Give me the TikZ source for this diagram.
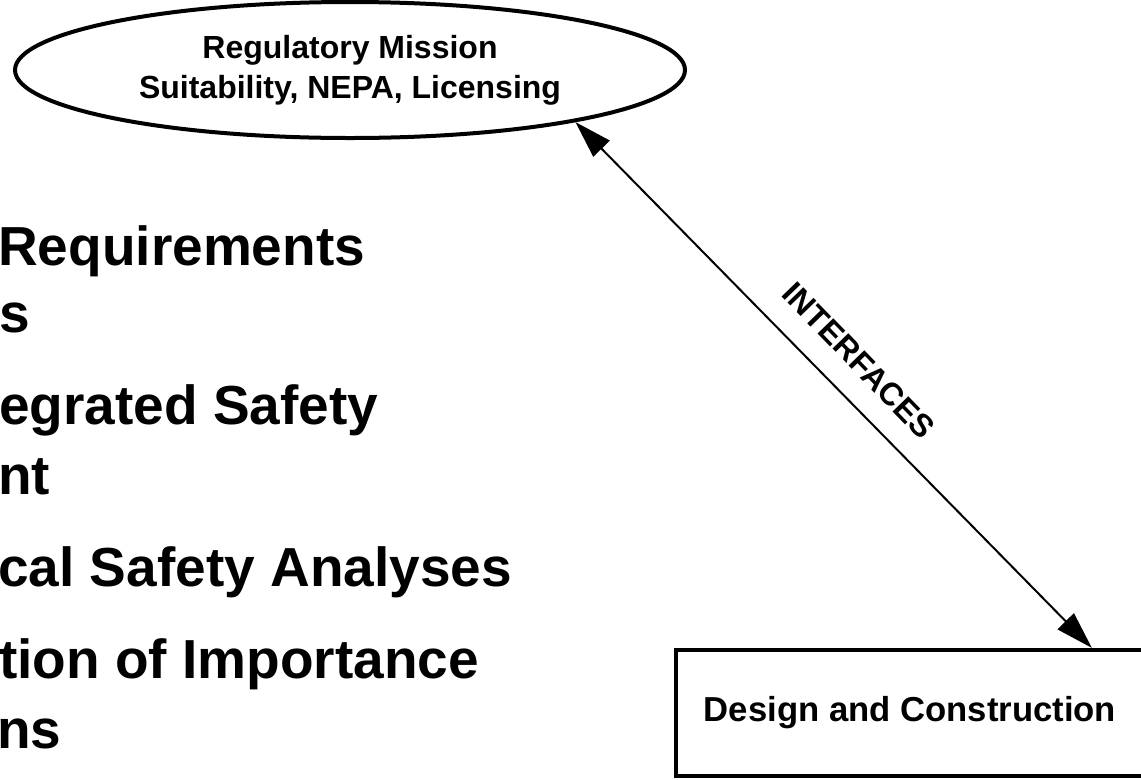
\documentclass[tikz,border=0pt]{standalone}
\usepackage{fontspec}
\setmainfont{Liberation Sans}
\usetikzlibrary{shapes.geometric,arrows.meta,calc}

\newcommand{\slidefont}{\fontsize{41.25}{50}\selectfont\bfseries}
\newcommand{\ovalfont}{\fontsize{24}{30}\selectfont\bfseries}
\newcommand{\boxfont}{\fontsize{26}{30}\selectfont\bfseries}
\newcommand{\tagfont}{\fontsize{24}{28}\selectfont\bfseries}

\begin{document}
\begin{tikzpicture}[x=0.75pt,y=0.75pt,yscale=-1,xscale=1]
\useasboundingbox (0,0) rectangle (1141,779);
\clip (0,0) rectangle (1141,779);

%Shape: Ellipse
\node (reg) [ellipse, draw, line width=3pt, minimum width=502.5pt, minimum height=102pt, align=center, font=\ovalfont] at (350,70) {Regulatory Mission\\Suitability, NEPA, Licensing};

%Shape: Rectangle
\node (dc) [draw, line width=3.2pt, minimum width=351pt, minimum height=94.5pt, font=\boxfont] at (910,713) {Design and Construction};

%Straight Lines
\draw [line width=1.5pt, {Triangle[length=28pt,width=17pt]}-{Triangle[length=28pt,width=17pt]}] (reg.-13) -- node (ifc) [pos=0.5, rotate=-45.9, anchor=south, inner ysep=17pt, font=\tagfont] {INTERFACES} ($(dc.north west)!0.885!(dc.north east)$) ;

% Text Node
\node (l1) [anchor=base west, inner sep=0pt, font=\slidefont] at (-2,265) {Requirements};
% Text Node
\node (l2) [anchor=base west, inner sep=0pt, font=\slidefont] at (-1,332) {s};
% Text Node
\node (l3) [anchor=base west, inner sep=0pt, font=\slidefont] at (-1,424) {egrated Safety};
% Text Node
\node (l4) [anchor=base west, inner sep=0pt, font=\slidefont] at (-2,494) {nt};
% Text Node
\node (l5) [anchor=base west, inner sep=0pt, font=\slidefont] at (-2,586) {cal Safety Analyses};
% Text Node
\node (l6) [anchor=base west, inner sep=0pt, font=\slidefont] at (-1,678) {tion of Importance};
% Text Node
\node (l7) [anchor=base west, inner sep=0pt, font=\slidefont] at (-3,748) {ns};

\end{tikzpicture}
\end{document}
